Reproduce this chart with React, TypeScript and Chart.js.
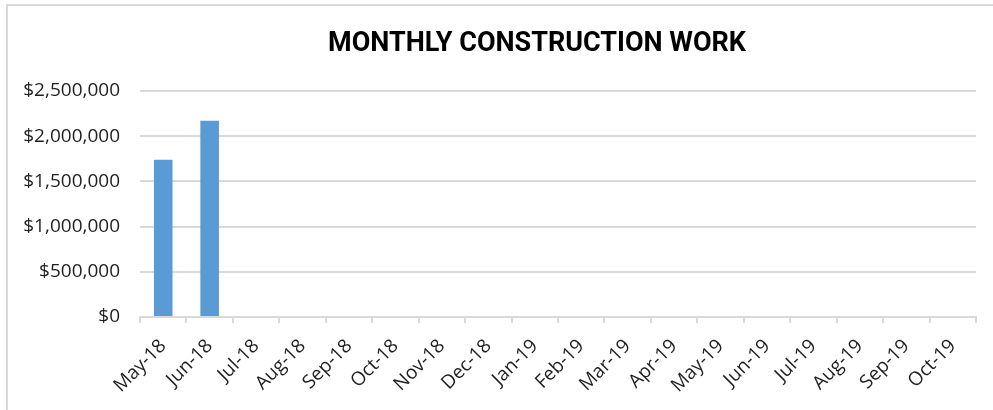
import { useEffect, useRef } from "react";
import { Chart, registerables } from "chart.js";

Chart.register(...registerables);

const chartTitle = "MONTHLY CONSTRUCTION WORK";

const categories = [
  "May-18", "Jun-18", "Jul-18", "Aug-18", "Sep-18", "Oct-18", "Nov-18", "Dec-18",
  "Jan-19", "Feb-19", "Mar-19", "Apr-19", "May-19", "Jun-19", "Jul-19", "Aug-19",
  "Sep-19", "Oct-19",
];

const workValues: (number | null)[] = [
  1740000, 2170000, null, null, null, null, null, null,
  null, null, null, null, null, null, null, null, null, null,
];

const yMin = 0;
const yMax = 2500000;
const yStep = 500000;

const fmt = (v: number) => "$" + Math.round(v).toLocaleString("en-US");

export default function App() {
  const ref = useRef<HTMLCanvasElement>(null);

  useEffect(() => {
    document.body.style.margin = "0";
    const titlePlugin = {
      id: "centerTitle",
      afterDraw(chart: any) {
        const ctx = chart.ctx;
        ctx.save();
        ctx.font = "bold 27px Roboto";
        ctx.fillStyle = "#000000";
        ctx.textAlign = "center";
        ctx.textBaseline = "middle";
        ctx.fillText(chartTitle, 537, 44);
        ctx.restore();
      },
    };
    const chart = new Chart(ref.current as HTMLCanvasElement, {
      type: "bar",
      data: {
        labels: categories,
        datasets: [
          {
            data: workValues,
            backgroundColor: "#5b9bd5",
            barPercentage: 0.4,
            categoryPercentage: 1,
          },
        ],
      },
      options: {
        responsive: false,
        animation: false,
        layout: { padding: { top: 91, right: 17, left: 0, bottom: 0 } },
        plugins: {
          legend: { display: false },
          tooltip: { enabled: false },
          title: { display: false },
        },
        scales: {
          x: {
            offset: true,
            grid: {
              offset: true,
              drawOnChartArea: false,
              drawTicks: true,
              tickLength: 6,
              color: "#d9d9d9",
              lineWidth: 2,
            },
            border: { color: "#d9d9d9", width: 2 },
            ticks: {
              maxRotation: 45,
              minRotation: 45,
              autoSkip: false,
              font: { family: "Open Sans", size: 19 },
              color: "#1f1f1f",
              padding: 12,
            },
            afterFit: (s: any) => {
              s.height = 93;
            },
          },
          y: {
            min: yMin,
            max: yMax,
            ticks: {
              stepSize: yStep,
              callback: (v: any) => fmt(Number(v)),
              padding: 20,
              font: { family: "Open Sans", size: 19 },
              color: "#1f1f1f",
            },
            grid: { color: "#d9d9d9", lineWidth: 2, drawTicks: false },
            border: { display: false },
            afterFit: (s: any) => {
              s.width = 140;
            },
          },
        },
      },
      plugins: [titlePlugin],
    });
    return () => chart.destroy();
  }, []);

  return (
    <div style={{ position: "relative", width: 993, height: 410, overflow: "hidden", background: "#fff" }}>
      <div
        style={{
          position: "absolute",
          left: 6,
          top: 4,
          width: 1000,
          height: 420,
          borderLeft: "2px solid #d9d9d9",
          borderTop: "2px solid #d9d9d9",
        }}
      />
      <canvas ref={ref} width={993} height={410} style={{ position: "absolute", left: 0, top: 0 }} />
    </div>
  );
}
